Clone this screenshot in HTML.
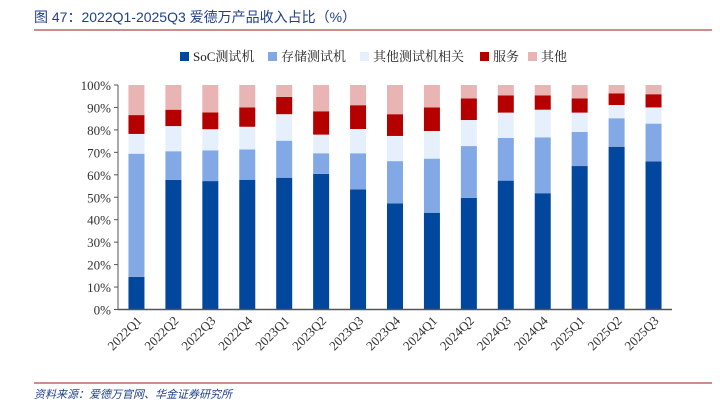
<!DOCTYPE html>
<html><head><meta charset="utf-8"><style>
body{margin:0;background:#fff;width:720px;height:411px;overflow:hidden;font-family:"Liberation Serif","Noto Serif CJK SC",serif}
</style></head><body>
<svg width="720" height="411" xmlns="http://www.w3.org/2000/svg">
<text x="34" y="22" font-size="14" fill="#1f3f8c" font-family="Liberation Sans,Noto Sans CJK SC,sans-serif">图 47：2022Q1-2025Q3 爱德万产品收入占比（%）</text>
<line x1="34" y1="30" x2="712" y2="30" stroke="#9b1b1b" stroke-width="1"/>
<g id="legend"></g>
<g id="yaxis"></g>
<g id="bars"></g>
<g id="xaxis"></g>
<line x1="34" y1="383" x2="712" y2="383" stroke="#9b1b1b" stroke-width="1"/>
<text x="34" y="398" font-size="11" font-style="italic" fill="#1f3f8c" font-family="Liberation Sans,Noto Sans CJK SC,sans-serif">资料来源：爱德万官网、华金证券研究所</text>
</svg>
<script>
const categories=["2022Q1","2022Q2","2022Q3","2022Q4","2023Q1","2023Q2","2023Q3","2023Q4","2024Q1","2024Q2","2024Q3","2024Q4","2025Q1","2025Q2","2025Q3"];
const seriesNames=["SoC测试机","存储测试机","其他测试机相关","服务","其他"];
const soc=[14.5,57.7,57.2,57.8,58.7,60.4,53.5,47.3,43.1,49.7,57.4,51.8,63.9,72.5,66];
const memory=[54.9,12.8,13.7,13.5,16.5,9.2,16.1,18.8,24.1,23.1,19,24.9,15.2,12.7,16.8];
const otherTest=[8.8,11.2,9.4,10.1,11.8,8.3,10.8,11.2,12.3,11.6,11.3,12.3,8.6,5.9,7.2];
const service=[8.4,7.3,7.5,8.6,7.7,10.4,10.6,9.7,10.5,9.6,7.7,6.4,6.3,5.2,5.9];
const other=[13.4,11,12.2,10,5.3,11.7,9,13,10,6,4.6,4.6,6,3.7,4.1];
const yTicks=[0,10,20,30,40,50,60,70,80,90,100];
const colors=["#00479d","#82a9e6","#e6f0fd","#b50000","#e8b4b4"];
const NS="http://www.w3.org/2000/svg";
const x0=118,y0=309.5,ph=224.5,x1=672;
const yS=v=>y0-v/100*ph;
const step=(x1-x0)/categories.length;
const xC=i=>x0+step*(i+0.5);
function mk(t,a,p){const e=document.createElementNS(NS,t);for(const k in a)e.setAttribute(k,a[k]);p.appendChild(e);return e;}
const ya=document.getElementById('yaxis');
mk('line',{x1:x0,y1:y0,x2:x0,y2:yS(100),stroke:'#555'},ya);
yTicks.forEach(v=>{
 const t=mk('line',{x1:x0-4,y1:yS(v),x2:x0,y2:yS(v),stroke:'#555'},ya);
 
 
 const l=mk('text',{x:x0-7,y:yS(v)+5,'text-anchor':'end','font-size':13,fill:'#333'},ya);
 l.textContent=v+'%';
 
 
});
const series=[soc,memory,otherTest,service,other];
const bg=document.getElementById('bars');
categories.forEach((c,i)=>{
 let cum=0;
 series.forEach((s,k)=>{
  const v=s[i];
  const r=mk('rect',{x:xC(i)-8,y:yS(cum+v),width:16,height:yS(cum)-yS(cum+v),fill:colors[k]},bg);
  
  
  cum+=v;
 });
});
const xa=document.getElementById('xaxis');
mk('line',{x1:x0,y1:y0,x2:x1,y2:y0,stroke:'#555','stroke-width':1.5},xa);
categories.forEach((c,i)=>{
 const t=mk('text',{x:xC(i)+6,y:y0+12,'text-anchor':'end','font-size':13,fill:'#333',transform:`rotate(-45 ${xC(i)+6} ${y0+12})`},xa);
 t.textContent=c;
 
 
});
const lg=document.getElementById('legend');
const lx=[180,268,360,480,528];
seriesNames.forEach((n,k)=>{
 const r=mk('rect',{x:lx[k],y:52,width:9,height:9,fill:colors[k]},lg);
 
 
 const t=mk('text',{x:lx[k]+13,y:61,'font-size':13,fill:'#222'},lg);
 t.textContent=n;
 
 
});
</script>
</body></html>
